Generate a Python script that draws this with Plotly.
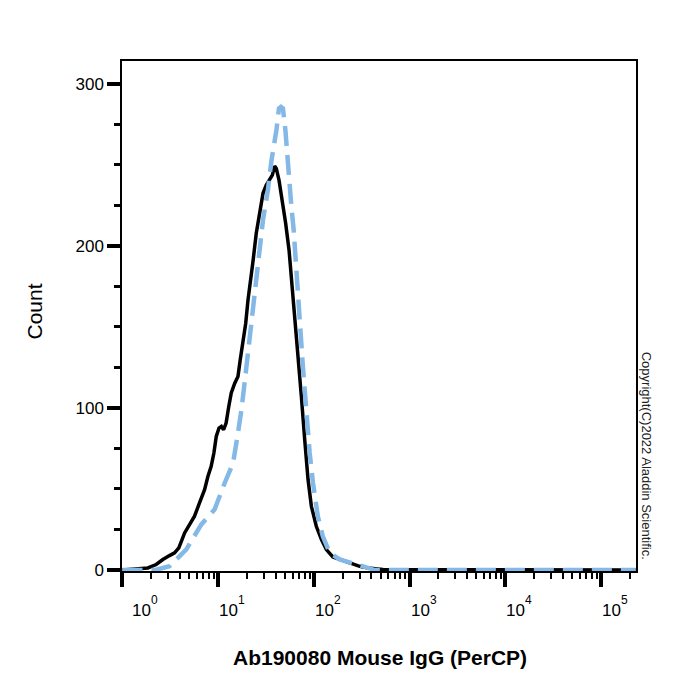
import math
import plotly.graph_objects as go

# ---- data (fluorescence intensity, event count) ----
sample_x = [1.0, 1.84, 2.25, 2.64, 3.10, 3.50, 3.88, 4.11, 4.46, 5.02, 5.66, 6.38, 7.21, 7.82,
            8.45, 9.02, 9.55, 10.2, 10.8, 11.4, 12.1, 12.9, 13.7, 14.9, 16.1, 17.0, 18.2, 19.4,
            20.5, 21.6, 23.1, 25.0, 27.1, 29.4, 31.8, 34.5, 36.8, 38.9, 40.5, 43.2, 46.8, 50.7,
            55.0, 58.6, 63.0, 68.2, 74.0, 80.2, 86.9, 94.2, 106, 120, 135, 158, 186, 237, 301,
            368, 488, 528, 230000]
sample_y = [0, 1.3, 3.4, 6.5, 8.9, 10.6, 13.7, 17.7, 22.9, 28.0, 33.2, 41.4, 49.6, 57.8,
            64.0, 72.2, 82.4, 87.6, 88.6, 86.6, 90.7, 100.9, 109.2, 115.3, 119.4, 129.7, 140.0, 152.3,
            166.7, 179.0, 190.3, 207.8, 220.1, 232.4, 237.5, 240.6, 243.7, 249.2, 247.8, 240.6, 228.3, 213.9,
            197.5, 179.0, 158.5, 133.8, 107.1, 80.4, 55.8, 39.3, 27.0, 18.8, 12.6, 8.1, 6.5, 4.4, 2.3,
            1.3, 0.9, 0.3, 0]

isotype_x = [1.0, 2.2, 3.10, 4.63, 6.65, 9.16, 11.7, 14.3, 16.1, 17.5, 19.4, 21.3, 23.1, 25.1,
             27.1, 29.4, 33.1, 35.9, 40.6, 43.2, 45.3, 47.5, 50.4, 53.6, 58.2, 61.5, 65.6, 71.0,
             75.9, 80.2, 84.7, 90.4, 97.9, 110, 124, 146, 186, 256, 327, 433, 230000]
isotype_y = [0, 0, 2.3, 12.6, 28.0, 37.3, 53.7, 66.0, 84.5, 98.9, 121.5, 142.0, 160.5, 179.0,
             199.5, 216.0, 234.5, 251.9, 271.4, 284.8, 285.8, 284.8, 271.4, 246.8, 224.2, 209.9, 183.1, 152.3,
             129.7, 111.2, 92.7, 72.2, 53.7, 33.2, 20.8, 10.6, 6.5, 4.4, 2.3, 0, 0]

x_tick_vals = [1, 10, 100, 1000, 10000, 100000]
x_tick_base = "10"
x_tick_exps = ["0", "1", "2", "3", "4", "5"]
x_minor_vals = [m * 10 ** k for k in range(0, 6) for m in range(2, 10) if m * 10 ** k < 230000]
y_tick_vals = [0, 100, 200, 300]

x_title = "Ab190080 Mouse IgG (PerCP)"
y_title = "Count"
copyright_text = "Copyright(C)2022 Aladdin Scientific."

FONT = "Liberation Sans, Arial, sans-serif"

fig = go.Figure()
fig.add_trace(go.Scatter(x=sample_x, y=sample_y, mode="lines",
                         line=dict(color="black", width=3.5), showlegend=False))
fig.add_trace(go.Scatter(x=isotype_x, y=isotype_y, mode="lines",
                         line=dict(color="#84b8e6", width=4.5, dash="20px,9px"), showlegend=False))

annotations = [
    dict(text="<b>" + x_title + "</b>", xref="paper", yref="paper",
         x=0.5015, y=-0.1694, xanchor="center", yanchor="middle",
         showarrow=False, font=dict(size=21, family=FONT, color="black")),
    dict(text=y_title, xref="paper", yref="paper",
         x=-0.170, y=0.508, xanchor="center", yanchor="middle", textangle=-90,
         showarrow=False, font=dict(size=21, family=FONT, color="black")),
    dict(text=copyright_text, xref="paper", yref="paper",
         x=1.0195, y=0.226, xanchor="center", yanchor="middle", textangle=90,
         showarrow=False, font=dict(size=13, family=FONT, color="#222222")),
]

# decade labels "10" with raised exponent, sitting just right of each major tick
for i, (v, e) in enumerate(zip(x_tick_vals, x_tick_exps)):
    extra = 9 if i == 0 else 0
    annotations.append(dict(text=x_tick_base, xref="x", yref="paper",
                            x=math.log10(v), y=-0.0774, xanchor="left", yanchor="middle",
                            xshift=0 + extra, showarrow=False, borderpad=0,
                            font=dict(size=17, family=FONT, color="black")))
    annotations.append(dict(text=e, xref="x", yref="paper",
                            x=math.log10(v), y=-0.0578, xanchor="left", yanchor="middle",
                            xshift=19 + extra, showarrow=False, borderpad=0,
                            font=dict(size=12, family=FONT, color="black")))

fig.update_layout(
    width=700, height=700,
    margin=dict(l=122, r=64, t=61, b=129),
    paper_bgcolor="white", plot_bgcolor="white",
    font=dict(family=FONT, color="black"),
    xaxis=dict(
        type="log", range=[-0.005, 5.366],
        showgrid=False, zeroline=False,
        showline=True, linecolor="black", linewidth=1.5, mirror=True,
        tickmode="array", tickvals=x_tick_vals, showticklabels=False,
        ticks="outside", ticklen=14, tickwidth=4, tickcolor="black",
        minor=dict(tickmode="array", tickvals=x_minor_vals, ticks="outside",
                   ticklen=6, tickwidth=2, tickcolor="black", showgrid=False),
    ),
    yaxis=dict(
        range=[-0.6, 314.05],
        showgrid=False, zeroline=False,
        showline=True, linecolor="black", linewidth=1.5, mirror=True,
        tickmode="array", tickvals=y_tick_vals,
        ticks="outside", ticklen=13, tickwidth=4, tickcolor="black",
        tickfont=dict(size=17, family=FONT, color="black"),
        minor=dict(dtick=25, ticks="outside", ticklen=6, tickwidth=2.5,
                   tickcolor="black", showgrid=False),
    ),
    annotations=annotations,
)

fig.write_html("out.html")
